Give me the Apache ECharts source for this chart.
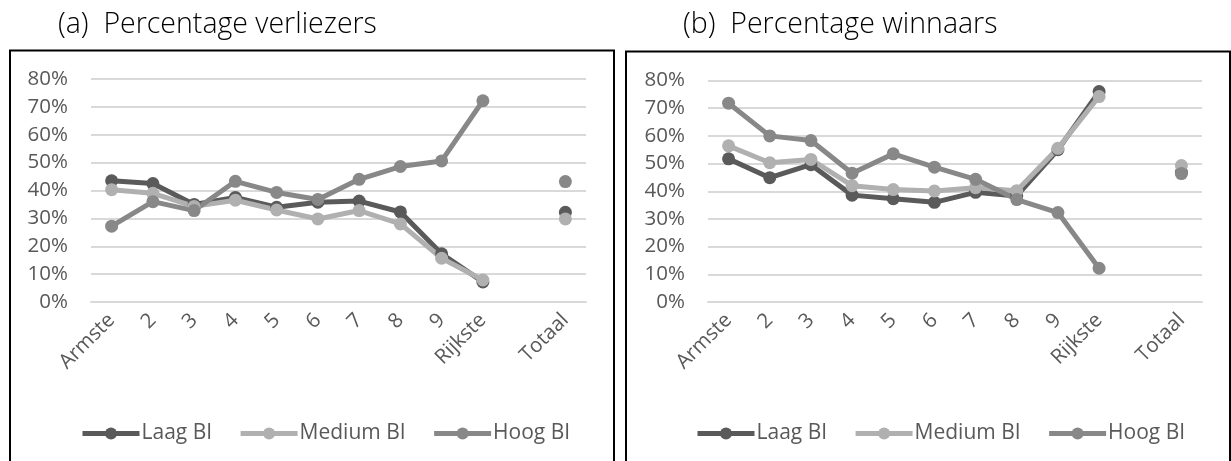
<!DOCTYPE html>
<html><head><meta charset="utf-8">
<script src="https://cdn.jsdelivr.net/npm/echarts@6/dist/echarts.min.js"></script>
<style>html,body{margin:0;padding:0;background:#fff}#c{width:1231px;height:461px}</style>
</head><body><div id="c"></div>
<script>
const categories = ['Armste','2','3','4','5','6','7','8','9','Rijkste','','Totaal'];
const yTicks = [0,10,20,30,40,50,60,70,80];
const seriesNames = ['Laag BI','Medium BI','Hoog BI'];
const titles = ['(a)  Percentage verliezers','(b)  Percentage winnaars'];
// (a) verliezers
const lossLaag   = [43.5, 42.5, 35, 37.5, 34, 35.8, 36.2, 32.3, 17.3, 7.2, null, 32.2];
const lossMedium = [40.3, 39, 34.3, 36.5, 33, 29.8, 32.8, 28, 15.7, 7.9, null, 29.8];
const lossHoog   = [27.2, 36, 32.8, 43.3, 39.3, 36.8, 44, 48.6, 50.6, 72.2, null, 43.2];
// (b) winnaars
const winLaag    = [51.7, 44.9, 49.6, 38.6, 37.3, 36, 39.6, 38.3, 55, 76, null, 46.8];
const winMedium  = [56.4, 50.3, 51.5, 42, 40.6, 40.1, 41.3, 40.2, 55.5, 74.2, null, 49.3];
const winHoog    = [71.8, 60, 58.3, 46.5, 53.5, 48.7, 44.3, 37, 32.3, 12.2, null, 46.4];

const colors = ['#5a5a5a', '#b0b0b0', '#888888'];
const FONT = 'Open Sans';
const grids = [
  {left: 91, top: 79, width: 495, height: 223},
  {left: 708, top: 80.5, width: 494, height: 221.5}
];
const panels = [[lossLaag, lossMedium, lossHoog],[winLaag, winMedium, winHoog]];

const xAxes = [], yAxes = [], series = [], legends = [];
grids.forEach((g, i) => {
  xAxes.push({
    type: 'category', gridIndex: i, data: categories, boundaryGap: true,
    axisLine: {show: true, lineStyle: {color: '#d9d9d9', width: 2}},
    axisTick: {show: false},
    axisLabel: {interval: 0, rotate: 45, color: '#595959', fontSize: 20.5, fontFamily: FONT, margin: 15}
  });
  yAxes.push({
    type: 'value', gridIndex: i, min: 0, max: 80, interval: 10,
    axisLine: {show: false}, axisTick: {show: false},
    splitLine: {lineStyle: {color: '#d9d9d9', width: 2}},
    axisLabel: {formatter: '{value}%', color: '#595959', fontSize: 20.5, fontFamily: FONT, margin: 23}
  });
  panels[i].forEach((d, k) => {
    series.push({
      name: seriesNames[k], type: 'line', xAxisIndex: i, yAxisIndex: i, data: d,
      symbol: 'circle', symbolSize: 13, showAllSymbol: true, connectNulls: false,
      lineStyle: {color: colors[k], width: 5},
      itemStyle: {color: colors[k]}, animation: false
    });
  });
});
[75, 690].forEach(x => legends.push({
  left: x, top: 418, itemWidth: 57, itemHeight: 15, itemGap: 26,
  lineStyle: {width: 5},
  data: seriesNames, textStyle: {color: '#595959', fontSize: 21, fontFamily: FONT, padding: [0,0,0,-3]}
}));

const chart = echarts.init(document.getElementById('c'), null, {renderer: 'canvas'});
chart.setOption({
  animation: false,
  color: colors,
  grid: grids,
  xAxis: xAxes, yAxis: yAxes, series: series, legend: legends,
  graphic: [
    {type: 'rect', shape: {x: 10, y: 50.5, width: 604, height: 430}, style: {fill: null, stroke: '#000', lineWidth: 2}},
    {type: 'rect', shape: {x: 626, y: 51.5, width: 604, height: 430}, style: {fill: null, stroke: '#000', lineWidth: 2}},
    {type: 'text', x: 58, y: 25, style: {text: titles[0], fill: '#000', font: '300 28.5px "' + FONT + '"', verticalAlign: 'middle'}},
    {type: 'text', x: 683, y: 25, style: {text: titles[1], fill: '#000', font: '300 28.5px "' + FONT + '"', verticalAlign: 'middle'}}
  ]
});
</script></body></html>
